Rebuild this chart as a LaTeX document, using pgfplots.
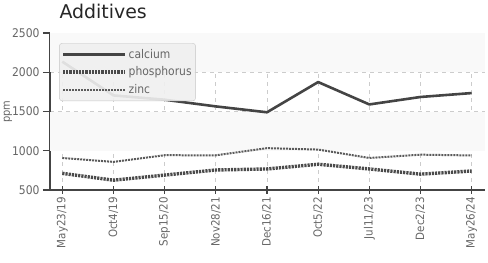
\documentclass[border=0pt]{standalone}
\usepackage{fontspec}
\setmainfont{DejaVu Sans}
\newfontfamily\cond{DejaVu Sans Condensed}
\usepackage{pgfplots}
\pgfplotsset{compat=1.18}
\definecolor{tickgray}{HTML}{666666}
\definecolor{gridgray}{HTML}{CCCCCC}
\definecolor{band}{HTML}{F9F9F9}
\definecolor{ca}{HTML}{444444}
\definecolor{ph}{HTML}{4A4A4A}
\definecolor{zn}{HTML}{5A5A5A}
\begin{document}
\begin{tikzpicture}
\begin{axis}[
  at={(0,0)}, anchor=south west,
  scale only axis, width=435bp, height=157bp,
  xmin=-0.24, xmax=8.26, ymin=500, ymax=2500,
  xtick={0,...,8},
  xticklabels={May23/19,Oct4/19,Sep15/20,Nov28/21,Dec16/21,Oct5/22,Jul11/23,Dec2/23,May26/24},
  x tick label style={rotate=90, anchor=east, font=\cond\fontsize{11.5}{12}\selectfont, text=tickgray},
  ytick={500,1000,1500,2000,2500},
  y tick label style={font=\cond\fontsize{12}{13}\selectfont, text=tickgray},
  /pgf/number format/assume math mode=true,
  /pgf/number format/1000 sep={},
  ylabel={ppm},
  every axis y label/.style={at={(rel axis cs:0,0.5)}, xshift=-42bp, rotate=90, anchor=center,
    font=\cond\fontsize{11}{12}\selectfont, text=tickgray},
  axis x line*=bottom, axis y line*=left,
  axis line style={color=ca, line width=1.6bp, -},
  x axis line style={line width=2bp},
  tick style={color=ca, line width=1.2bp},
  xtick align=center, ytick align=outside,
  major tick length=7bp,
  grid=major, grid style={gridgray, dashed, dash pattern=on 4bp off 4bp, line width=0.7bp},
  legend cell align=left,
  legend style={at={(0.021,0.936)}, anchor=north west,
    fill=gray!12, fill opacity=0.9, text opacity=1, draw=gray!45,
    rounded corners=3bp, font=\cond\fontsize{12}{13}\selectfont, text=tickgray,
    row sep=3bp, inner ysep=4bp, inner xsep=2bp},
  legend image code/.code={\draw[#1] (0bp,0bp) -- (62bp,0bp);},
  clip=false,
]
\fill[band] (axis cs:-0.24,2000) rectangle (axis cs:8.26,2500);
\fill[band] (axis cs:-0.24,1000) rectangle (axis cs:8.26,1500);
\addplot[ca, line width=2.6bp, line join=round] coordinates {
 (0,2135) (1,1705) (2,1650) (3,1565) (4,1490) (5,1875) (6,1590) (7,1685) (8,1735)};
\addlegendentry{calcium}
\addplot[ph, line width=3.4bp, dash pattern=on 2.2bp off 1bp] coordinates {
 (0,712) (1,625) (2,690) (3,755) (4,768) (5,828) (6,768) (7,702) (8,742)};
\addlegendentry{phosphorus}
\addplot[zn, line width=2bp, dash pattern=on 2bp off 1bp] coordinates {
 (0,908) (1,858) (2,943) (3,942) (4,1033) (5,1015) (6,908) (7,950) (8,940)};
\addlegendentry{zinc}
\node[anchor=base west, font=\fontsize{19}{21}\selectfont, text=black!85] at (rel axis cs:0,1) [xshift=6bp, yshift=14bp] {Additives};
\end{axis}
\pgfresetboundingbox
\path (-50bp,-73bp) rectangle (438bp,190bp);
\end{tikzpicture}
\end{document}
